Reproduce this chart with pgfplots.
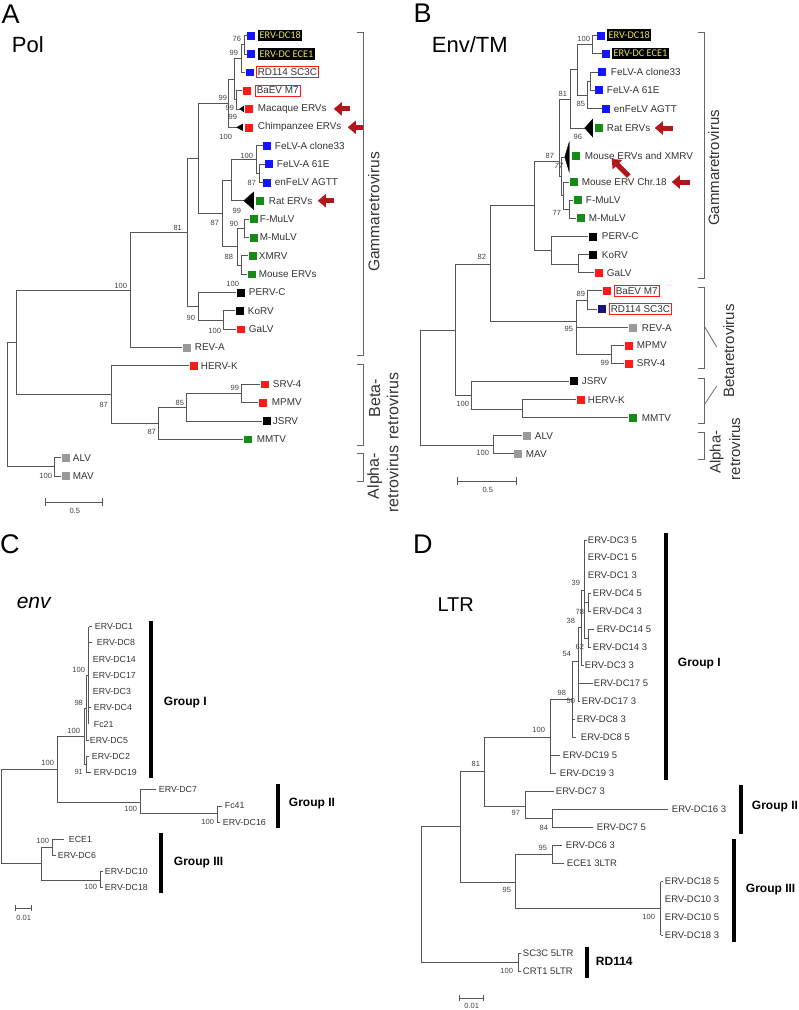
\documentclass[border=0pt]{standalone}
\usepackage{pgfplots}
\pgfplotsset{compat=1.18}
\usetikzlibrary{arrows.meta}
\usepackage{fontspec}
\setmainfont{Liberation Sans}
\newfontfamily\carlitofont{Carlito}
\definecolor{tl}{HTML}{555555}
\definecolor{lb}{HTML}{333333}
\definecolor{mblue}{HTML}{1414FF}
\definecolor{mred}{HTML}{FF1A1A}
\definecolor{mgreen}{HTML}{178A17}
\definecolor{mgray}{HTML}{9A9A9A}
\definecolor{mnavy}{HTML}{14147A}
\definecolor{arr}{HTML}{B3161B}
\definecolor{ylw}{HTML}{E8E05A}
\newcommand{\fs}[1]{\fontsize{#1}{#1}\selectfont}
\pgfplotsset{tr/.style={no markers, tl, line width=0.75pt},
 br/.style={no markers, black!60, line width=0.8pt},
 gb/.style={no markers, black, line width=3.6pt},
 sq/.style={only marks, mark=square*, mark size=3.4pt}}
\tikzset{lab/.style={anchor=west, inner sep=0pt, text=lb, font=\fs{9.9}},
 labc/.style={anchor=west, inner sep=0pt, text=lb, font=\fs{8.8}},
 labd/.style={anchor=west, inner sep=0pt, text=lb, font=\fs{9.5}},
 bs/.style={inner sep=0pt, text=black!75, font=\fs{7.5}},
 bk/.style={anchor=west, fill=black, text=ylw, inner xsep=1.6pt, inner ysep=2.4pt, font=\carlitofont\fs{10.3}},
 rb/.style={anchor=west, draw=mred, line width=0.8pt, text=lb, inner xsep=1.6pt, inner ysep=2pt, font=\fs{9.9}},
 grp/.style={anchor=west, inner sep=0pt, text=black, font=\bfseries\fs{12}},
 pl/.style={inner sep=0pt, font=\fs{27}},
 ar/.style={arr, line width=5pt, -{Triangle[length=8pt, width=13pt]}}}
\begin{document}
\begin{tikzpicture}
\begin{axis}[at={(0,0)}, anchor=south west, hide axis, scale only axis,
 width=798pt, height=1010pt, xmin=0, xmax=798, ymin=0, ymax=1010,
 y dir=reverse, clip=false]
\addplot[draw=none, no markers] coordinates {(0,0) (798,1010)};
%%%%%%%%%%%%%%%% PANEL A %%%%%%%%%%%%%%%%
\addplot[tr] coordinates {(246,35.5) (244,35.5) (244,53.9) (246,53.9)};
\addplot[tr] coordinates {(244,44.7) (241,44.7) (241,72.2) (244,72.2)};
\addplot[tr] coordinates {(241,90.6) (236,90.6) (236,108.9) (239,108.9)};
\addplot[fill=black, draw=black] coordinates {(239,108.9) (243,106) (243,111.8)} -- cycle;
\addplot[tr] coordinates {(241,58.5) (234,58.5) (234,99.8) (236,99.8)};
\addplot[tr] coordinates {(234,79) (228,79) (228,127.3) (236,127.3)};
\addplot[fill=black, draw=black] coordinates {(236,127.3) (242,124) (242,130.6)} -- cycle;
\addplot[tr] coordinates {(264,164) (259,164) (259,182.3) (262,182.3)};
\addplot[tr] coordinates {(262,145.6) (256,145.6) (256,173) (259,173)};
\addplot[tr] coordinates {(256,159) (231,159) (231,200.7) (243,200.7)};
\addplot[fill=black, draw=black] coordinates {(243,200.7) (253,192) (253,209.5)} -- cycle;
\addplot[tr] coordinates {(248,219) (244,219) (244,237.4) (248,237.4)};
\addplot[tr] coordinates {(247,255.7) (241,255.7) (241,274.1) (246,274.1)};
\addplot[tr] coordinates {(244,228) (237,228) (237,265) (241,265)};
\addplot[tr] coordinates {(231,180) (222,180) (222,246.5) (237,246.5)};
\addplot[tr] coordinates {(228,103) (198,103) (198,213) (222,213)};
\addplot[tr] coordinates {(234,310.8) (223,310.8) (223,329.1) (235,329.1)};
\addplot[tr] coordinates {(235,292.4) (198,292.4) (198,320) (223,320)};
\addplot[tr] coordinates {(198,158) (187,158) (187,306) (198,306)};
\addplot[tr] coordinates {(187,232) (130,232) (130,347.5) (181,347.5)};
\addplot[tr] coordinates {(259,384.2) (241,384.2) (241,402.5) (257,402.5)};
\addplot[tr] coordinates {(241,393) (186,393) (186,420.9) (261,420.9)};
\addplot[tr] coordinates {(186,407) (158,407) (158,439.2) (242,439.2)};
\addplot[tr] coordinates {(188,365.8) (111,365.8) (111,423) (158,423)};
\addplot[tr] coordinates {(130,290) (16,290) (16,394) (111,394)};
\addplot[tr] coordinates {(60,457.6) (54,457.6) (54,475.9) (60,475.9)};
\addplot[tr] coordinates {(16,342) (7,342) (7,466.7) (54,466.7)};
\addplot[tr] coordinates {(45,502) (102,502)};
\addplot[tr] coordinates {(45,498) (45,506)};
\addplot[tr] coordinates {(102,498) (102,506)};
\node[bs] at (axis cs:74,511) {0.5};
% squares A
\addplot[sq, mblue] coordinates {(250,35.5) (250,53.9) (249,72.2) (266,145.6) (268,164) (266,182.3)};
\addplot[sq, mred] coordinates {(246,90.6) (248,108.9) (248,127.3) (240,329.1) (193,365.8) (264,384.2) (262,402.5)};
\addplot[sq, mgreen] coordinates {(259,200.7) (253,219) (253,237.4) (252,255.7) (251,274.1) (247,439.2)};
\addplot[sq, black] coordinates {(240,292.4) (239,310.8) (266,420.9)};
\addplot[sq, mgray] coordinates {(186,347.5) (65,457.6) (65,475.9)};
% labels A
\node[bk] at (axis cs:257,35.5) {ERV-DC18};
\node[bk] at (axis cs:257,53.9) {ERV-DC ECE1};
\node[rb] at (axis cs:255,72.2) {RD114 SC3C};
\node[rb] at (axis cs:254,90.6) {BaEV M7};
\node[lab] at (axis cs:257,108.9) {Macaque ERVs};
\node[lab] at (axis cs:257,127.3) {Chimpanzee ERVs};
\node[lab] at (axis cs:274,145.6) {FeLV-A clone33};
\node[lab] at (axis cs:276,164) {FeLV-A 61E};
\node[lab] at (axis cs:274,182.3) {enFeLV AGTT};
\node[lab] at (axis cs:268,200.7) {Rat ERVs};
\node[lab] at (axis cs:259,219) {F-MuLV};
\node[lab] at (axis cs:259,237.4) {M-MuLV};
\node[lab] at (axis cs:258,255.7) {XMRV};
\node[lab] at (axis cs:258,274.1) {Mouse ERVs};
\node[lab] at (axis cs:248,292.4) {PERV-C};
\node[lab] at (axis cs:247,310.8) {KoRV};
\node[lab] at (axis cs:248,329.1) {GaLV};
\node[lab] at (axis cs:194,347.5) {REV-A};
\node[lab] at (axis cs:200,365.8) {HERV-K};
\node[lab] at (axis cs:272,384.2) {SRV-4};
\node[lab] at (axis cs:271,402.5) {MPMV};
\node[lab] at (axis cs:272,420.9) {JSRV};
\node[lab] at (axis cs:256,439.2) {MMTV};
\node[lab] at (axis cs:72,457.6) {ALV};
\node[lab] at (axis cs:72,475.9) {MAV};
% bootstrap A
\node[bs] at (axis cs:236,39) {76};
\node[bs] at (axis cs:233,53) {99};
\node[bs] at (axis cs:222,98) {99};
\node[bs] at (axis cs:229,108) {99};
\node[bs] at (axis cs:232,117) {99};
\node[bs] at (axis cs:225,137) {100};
\node[bs] at (axis cs:246,156) {100};
\node[bs] at (axis cs:251,183) {87};
\node[bs] at (axis cs:236,211) {99};
\node[bs] at (axis cs:214,223) {87};
\node[bs] at (axis cs:233,224) {90};
\node[bs] at (axis cs:228,257) {88};
\node[bs] at (axis cs:232,284) {100};
\node[bs] at (axis cs:177,228) {81};
\node[bs] at (axis cs:120,286) {100};
\node[bs] at (axis cs:190,318) {90};
\node[bs] at (axis cs:214,331) {100};
\node[bs] at (axis cs:234,388) {99};
\node[bs] at (axis cs:179,403) {85};
\node[bs] at (axis cs:151,432) {87};
\node[bs] at (axis cs:103,405) {87};
\node[bs] at (axis cs:45,476) {100};
% arrows A
\draw[ar] (axis cs:349,108.9) -- (axis cs:333,108.9);
\draw[ar] (axis cs:363,127.3) -- (axis cs:347,127.3);
\draw[ar] (axis cs:333,200.7) -- (axis cs:317,200.7);
% brackets A
\addplot[br] coordinates {(356,32) (363,32) (363,355) (356,355)};
\addplot[br] coordinates {(356,364) (363,364) (363,445) (356,445)};
\addplot[br] coordinates {(356,453) (363,453) (363,481) (356,481)};
\node[rotate=90, inner sep=0pt, text=lb, font=\fs{15.5}] at (axis cs:373,212) {Gammaretrovirus};
\node[rotate=90, inner sep=0pt, text=lb, font=\fs{16}] at (axis cs:374,398) {Beta-};
\node[rotate=90, inner sep=0pt, text=lb, font=\fs{16}] at (axis cs:392,406) {retrovirus};
\node[rotate=90, inner sep=0pt, text=lb, font=\fs{16}] at (axis cs:374,476) {Alpha-};
\node[rotate=90, inner sep=0pt, text=lb, font=\fs{16}] at (axis cs:392,479) {retrovirus};
\node[pl] at (axis cs:10,14) {A};
\node[inner sep=0pt, font=\fs{22}] at (axis cs:27,45) {Pol};
%%%%%%%%%%%%%%%% PANEL B %%%%%%%%%%%%%%%%
\addplot[tr] coordinates {(596,35.3) (592,35.3) (592,53.5) (601,53.5)};
\addplot[tr] coordinates {(592,44.4) (577,44.4) (577,95) (587,95)};
\addplot[tr] coordinates {(597,72) (590,72) (590,90) (594,90)};
\addplot[tr] coordinates {(590,81) (587,81) (587,108.6) (601,108.6)};
\addplot[tr] coordinates {(577,69.7) (570,69.7) (570,128) (584,128)};
\addplot[fill=black, draw=black] coordinates {(584,128) (592,119) (592,137)} -- cycle;
\addplot[fill=black, draw=black] coordinates {(564,157) (568.5,142) (568.5,172)} -- cycle;
\addplot[tr] coordinates {(572,200) (569,200) (569,218) (575,218)};
\addplot[tr] coordinates {(569,209) (563,209) (563,182) (568,182)};
\addplot[tr] coordinates {(563,195.5) (561,195.5) (561,157) (564,157)};
\addplot[tr] coordinates {(570,99) (559,99) (559,176) (561,176)};
\addplot[tr] coordinates {(587,236.5) (551,236.5) (551,264) (578,264)};
\addplot[tr] coordinates {(588,254.7) (578,254.7) (578,272.7) (593,272.7)};
\addplot[tr] coordinates {(559,161) (534,161) (534,250) (551,250)};
\addplot[tr] coordinates {(534,205) (490,205) (490,321) (576,321)};
\addplot[tr] coordinates {(601,290.7) (587,290.7) (587,309) (596,309)};
\addplot[tr] coordinates {(587,300) (576,300) (576,354) (611,354)};
\addplot[tr] coordinates {(576,327.7) (627,327.7)};
\addplot[tr] coordinates {(623,345.3) (611,345.3) (611,363.3) (623,363.3)};
\addplot[tr] coordinates {(490,264) (455,264) (455,395) (471,395)};
\addplot[tr] coordinates {(568,381) (471,381) (471,409) (522,409)};
\addplot[tr] coordinates {(575,399.7) (522,399.7) (522,417.7) (627,417.7)};
\addplot[tr] coordinates {(455,330) (420,330) (420,445) (493,445)};
\addplot[tr] coordinates {(521,435.7) (493,435.7) (493,453.7) (513,453.7)};
\addplot[tr] coordinates {(457,481) (516,481)};
\addplot[tr] coordinates {(457,477) (457,485)};
\addplot[tr] coordinates {(516,477) (516,485)};
\node[bs] at (axis cs:487,490) {0.5};
% squares B
\addplot[sq, mblue] coordinates {(600,35.3) (605,53.5) (601,72) (598,90) (605,108.6)};
\addplot[sq, mgreen] coordinates {(598,128) (575,156) (573,182) (577,200) (580,218) (632,417.7)};
\addplot[sq, black] coordinates {(592,236.5) (592,254.7) (573,381)};
\addplot[sq, mred] coordinates {(598,272.7) (606,290.7) (628,345.3) (628,363.3) (580,399.7)};
\addplot[sq, mnavy] coordinates {(601,309)};
\addplot[sq, mgray] coordinates {(632,327.7) (526,435.7) (517,453.7)};
% labels B
\node[bk] at (axis cs:606,35.3) {ERV-DC18};
\node[bk] at (axis cs:611,53.5) {ERV-DC ECE1};
\node[lab] at (axis cs:610,72) {FeLV-A clone33};
\node[lab] at (axis cs:606,90) {FeLV-A 61E};
\node[lab] at (axis cs:613,108.6) {enFeLV AGTT};
\node[lab] at (axis cs:606,128) {Rat ERVs};
\node[lab] at (axis cs:584,156) {Mouse ERVs and XMRV};
\node[lab] at (axis cs:581,182) {Mouse ERV Chr.18};
\node[lab] at (axis cs:585,200) {F-MuLV};
\node[lab] at (axis cs:588,218) {M-MuLV};
\node[lab] at (axis cs:601,236.5) {PERV-C};
\node[lab] at (axis cs:601,254.7) {KoRV};
\node[lab] at (axis cs:606,272.7) {GaLV};
\node[rb] at (axis cs:613,290.7) {BaEV M7};
\node[rb] at (axis cs:608,309) {RD114 SC3C};
\node[lab] at (axis cs:641,327.7) {REV-A};
\node[lab] at (axis cs:636,345.3) {MPMV};
\node[lab] at (axis cs:636,363.3) {SRV-4};
\node[lab] at (axis cs:581,381) {JSRV};
\node[lab] at (axis cs:587,399.7) {HERV-K};
\node[lab] at (axis cs:641,417.7) {MMTV};
\node[lab] at (axis cs:534,435.7) {ALV};
\node[lab] at (axis cs:525,453.7) {MAV};
% bootstrap B
\node[bs] at (axis cs:583,39) {100};
\node[bs] at (axis cs:562,94) {81};
\node[bs] at (axis cs:580,104) {85};
\node[bs] at (axis cs:577,137) {96};
\node[bs] at (axis cs:549,156) {87};
\node[bs, font=\itshape\fs{7.5}] at (axis cs:558,166) {77};
\node[bs] at (axis cs:556,213) {77};
\node[bs] at (axis cs:481,257) {82};
\node[bs] at (axis cs:580,294) {89};
\node[bs] at (axis cs:568,329) {95};
\node[bs] at (axis cs:604,363) {99};
\node[bs] at (axis cs:462,404) {100};
\node[bs] at (axis cs:482,453) {100};
% arrows B
\draw[ar] (axis cs:672,128) -- (axis cs:654,128);
\draw[ar] (axis cs:689,182) -- (axis cs:671,182);
\draw[ar] (axis cs:628,176) -- (axis cs:611,159);
% brackets B
\addplot[br] coordinates {(697,32) (704,32) (704,278) (697,278)};
\addplot[br] coordinates {(697,287) (704,287) (704,368) (697,368)};
\addplot[br] coordinates {(697,378) (704,378) (704,423) (697,423)};
\addplot[br] coordinates {(704,327) (716,347)};
\addplot[br] coordinates {(704,404) (716,386)};
\addplot[br] coordinates {(697,432) (704,432) (704,459) (697,459)};
\node[rotate=90, inner sep=0pt, text=lb, font=\fs{15}] at (axis cs:713,168) {Gammaretrovirus};
\node[rotate=90, inner sep=0pt, text=lb, font=\fs{15}] at (axis cs:728,351) {Betaretrovirus};
\node[rotate=90, inner sep=0pt, text=lb, font=\fs{15}] at (axis cs:716,452) {Alpha-};
\node[rotate=90, inner sep=0pt, text=lb, font=\fs{15}] at (axis cs:734,449) {retrovirus};
\node[pl] at (axis cs:422,13) {B};
\node[inner sep=0pt, font=\fs{22}] at (axis cs:469,45) {Env/TM};
%%%%%%%%%%%%%%%% PANEL C %%%%%%%%%%%%%%%%
\addplot[tr] coordinates {(88,626.7) (88,724)};
\addplot[tr] coordinates {(88,626.7) (91,626.7)};
\addplot[tr] coordinates {(88,642.7) (91,642.7)};
\addplot[tr] coordinates {(88,707.7) (90,707.7)};
\addplot[tr] coordinates {(88,675) (86,675) (86,740.7) (88,740.7)};
\addplot[tr] coordinates {(88,756.7) (85.5,756.7) (85.5,772.7) (90,772.7)};
\addplot[tr] coordinates {(86,708) (83.5,708) (83.5,764.7) (85.5,764.7)};
\addplot[tr] coordinates {(83.5,736) (57,736) (57,802) (140,802)};
\addplot[tr] coordinates {(155,789.5) (140,789.5) (140,813) (217,813)};
\addplot[tr] coordinates {(221,806) (217,806) (217,822) (219,822)};
\addplot[tr] coordinates {(57,769) (1,769) (1,863) (41,863)};
\addplot[tr] coordinates {(52,847) (41,847) (41,880) (100,880)};
\addplot[tr] coordinates {(63,839) (52,839) (52,855) (55,855)};
\addplot[tr] coordinates {(102,871) (100,871) (100,887) (102,887)};
\addplot[tr] coordinates {(15,908) (31,908)};
\addplot[tr] coordinates {(15,905) (15,911)};
\addplot[tr] coordinates {(31,905) (31,911)};
\node[bs] at (axis cs:23,918) {0.01};
\node[labc] at (axis cs:94,626.7) {ERV-DC1};
\node[labc] at (axis cs:96,642.7) {ERV-DC8};
\node[labc] at (axis cs:92,659) {ERV-DC14};
\node[labc] at (axis cs:92,675) {ERV-DC17};
\node[labc] at (axis cs:92,691.7) {ERV-DC3};
\node[labc] at (axis cs:93,707.7) {ERV-DC4};
\node[labc] at (axis cs:93,724) {Fc21};
\node[labc] at (axis cs:89,740.7) {ERV-DC5};
\node[labc] at (axis cs:91,756.7) {ERV-DC2};
\node[labc] at (axis cs:93,772.7) {ERV-DC19};
\node[labc] at (axis cs:158,789.5) {ERV-DC7};
\node[labc] at (axis cs:224,806) {Fc41};
\node[labc] at (axis cs:222,822) {ERV-DC16};
\node[labc] at (axis cs:68,839) {ECE1};
\node[labc] at (axis cs:57,855) {ERV-DC6};
\node[labc] at (axis cs:104,871) {ERV-DC10};
\node[labc] at (axis cs:104,887) {ERV-DC18};
\node[bs] at (axis cs:78,670) {100};
\node[bs] at (axis cs:78,703) {98};
\node[bs] at (axis cs:73,731) {100};
\node[bs] at (axis cs:78,772) {91};
\node[bs] at (axis cs:47,763) {100};
\node[bs] at (axis cs:130,809) {100};
\node[bs] at (axis cs:207,822) {100};
\node[bs] at (axis cs:42,841) {100};
\node[bs] at (axis cs:90,887) {100};
\addplot[gb] coordinates {(150,621) (150,778)};
\addplot[gb] coordinates {(277,784) (277,828)};
\addplot[gb] coordinates {(160,833) (160,893)};
\node[grp] at (axis cs:163,703) {Group I};
\node[grp] at (axis cs:288,804) {Group II};
\node[grp] at (axis cs:173,863) {Group III};
\node[pl] at (axis cs:9,544) {C};
\node[inner sep=0pt, font=\itshape\fs{21}] at (axis cs:33,603) {env};
%%%%%%%%%%%%%%%% PANEL D %%%%%%%%%%%%%%%%
\addplot[tr] coordinates {(584,540) (584,638.7)};
\addplot[tr] coordinates {(584,540) (586,540)};
\addplot[tr] coordinates {(584,602.7) (588,602.7)};
\addplot[tr] coordinates {(590,593.7) (588,593.7) (588,611.7) (590,611.7)};
\addplot[tr] coordinates {(584,638.7) (588,638.7)};
\addplot[tr] coordinates {(593,629.7) (588,629.7) (588,647.7) (590,647.7)};
\addplot[tr] coordinates {(584,590) (581,590) (581,665.3) (583,665.3)};
\addplot[tr] coordinates {(581,627.7) (578,627.7) (578,701.7) (579,701.7)};
\addplot[tr] coordinates {(578,683.7) (592,683.7)};
\addplot[tr] coordinates {(578,661) (572,661) (572,737.3) (575,737.3)};
\addplot[tr] coordinates {(572,719.3) (574,719.3)};
\addplot[tr] coordinates {(572,699) (550,699) (550,773.3) (555,773.3)};
\addplot[tr] coordinates {(550,755.7) (559,755.7)};
\addplot[tr] coordinates {(550,737) (484,737) (484,806) (525,806)};
\addplot[tr] coordinates {(553,791.7) (525,791.7) (525,818.3) (552,818.3)};
\addplot[tr] coordinates {(667,809.3) (552,809.3) (552,827.3) (592,827.3)};
\addplot[tr] coordinates {(484,771) (460,771) (460,882) (515,882)};
\addplot[tr] coordinates {(561,845.7) (552,845.7) (552,863.7) (563,863.7)};
\addplot[tr] coordinates {(552,854.7) (515,854.7) (515,908) (660,908)};
\addplot[tr] coordinates {(660,881.7) (660,935)};
\addplot[tr] coordinates {(660,881.7) (662,881.7)};
\addplot[tr] coordinates {(660,935) (662,935)};
\addplot[tr] coordinates {(460,826) (421,826) (421,962) (518,962)};
\addplot[tr] coordinates {(520,953.3) (518,953.3) (518,971.7) (520,971.7)};
\addplot[tr] coordinates {(459,998) (483,998)};
\addplot[tr] coordinates {(459,995) (459,1001)};
\addplot[tr] coordinates {(483,995) (483,1001)};
\node[bs] at (axis cs:471,1006) {0.01};
\node[labd] at (axis cs:587,540) {ERV-DC3 5};
\node[labd] at (axis cs:587,557.7) {ERV-DC1 5};
\node[labd] at (axis cs:587,575.7) {ERV-DC1 3};
\node[labd] at (axis cs:592,593.7) {ERV-DC4 5};
\node[labd] at (axis cs:592,611.7) {ERV-DC4 3};
\node[labd] at (axis cs:596,629.7) {ERV-DC14 5};
\node[labd] at (axis cs:592,647.7) {ERV-DC14 3};
\node[labd] at (axis cs:584,665.3) {ERV-DC3 3};
\node[labd] at (axis cs:593,683.7) {ERV-DC17 5};
\node[labd] at (axis cs:581,701.7) {ERV-DC17 3};
\node[labd] at (axis cs:576,719.3) {ERV-DC8 3};
\node[labd] at (axis cs:580,737.3) {ERV-DC8 5};
\node[labd] at (axis cs:562,755.7) {ERV-DC19 5};
\node[labd] at (axis cs:559,773.3) {ERV-DC19 3};
\node[labd] at (axis cs:555,791.7) {ERV-DC7 3};
\node[labd] at (axis cs:671,809.3) {ERV-DC16 3};
\node[labd] at (axis cs:596,827.3) {ERV-DC7 5};
\node[labd] at (axis cs:565,845.7) {ERV-DC6 3};
\node[labd] at (axis cs:566,863.7) {ECE1 3LTR};
\node[labd] at (axis cs:664,881.7) {ERV-DC18 5};
\node[labd] at (axis cs:664,899.3) {ERV-DC10 3};
\node[labd] at (axis cs:664,917) {ERV-DC10 5};
\node[labd] at (axis cs:664,935) {ERV-DC18 3};
\node[labd] at (axis cs:522,953.3) {SC3C 5LTR};
\node[labd] at (axis cs:522,971.7) {CRT1 5LTR};
\node[bs] at (axis cs:575,583) {39};
\node[bs] at (axis cs:579,612) {78};
\node[bs] at (axis cs:570,621) {38};
\node[bs] at (axis cs:579,647) {62};
\node[bs] at (axis cs:566,654) {54};
\node[bs] at (axis cs:561,693) {98};
\node[bs] at (axis cs:570,701) {50};
\node[bs] at (axis cs:538,730) {100};
\node[bs] at (axis cs:475,764) {81};
\node[bs] at (axis cs:515,813) {97};
\node[bs] at (axis cs:543,828) {84};
\node[bs] at (axis cs:542,848) {95};
\node[bs] at (axis cs:506,890) {95};
\node[bs] at (axis cs:648,917) {100};
\node[bs] at (axis cs:506,971) {100};
\addplot[gb] coordinates {(665,533) (665,780)};
\addplot[gb] coordinates {(740,785) (740,834)};
\addplot[gb] coordinates {(733,839) (733,942)};
\addplot[gb] coordinates {(586,947) (586,978)};
\node[grp] at (axis cs:677,664) {Group I};
\node[grp] at (axis cs:751,807) {Group II};
\node[grp] at (axis cs:745,890) {Group III};
\node[grp] at (axis cs:595,961) {RD114};
\node[pl] at (axis cs:422,544) {D};
\node[inner sep=0pt, font=\fs{20}] at (axis cs:455,605) {LTR};
\end{axis}
\end{tikzpicture}
\end{document}
